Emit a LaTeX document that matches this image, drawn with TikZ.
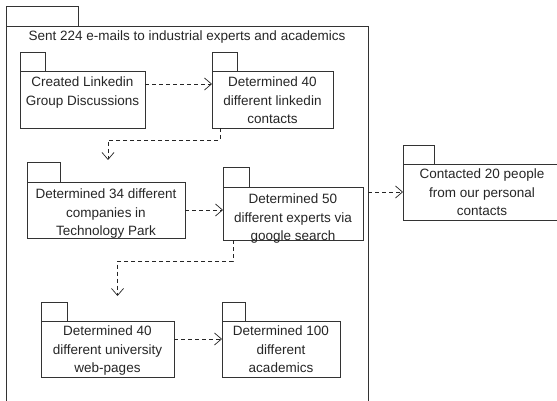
\documentclass[tikz,border=0pt]{standalone}
\usepackage{fontspec}
\setmainfont{Liberation Sans}
\usetikzlibrary{arrows.meta,positioning}
\begin{document}
\begin{tikzpicture}[x=1pt, y=-1pt,
    pkgline/.style={draw=black!80, line width=0.7pt},
    pkgbody/.style={pkgline, anchor=north west, outer sep=0pt, inner sep=0pt},
    pkgtext/.style={align=center, inner sep=0pt, text=black!85,
      font=\fontsize{13.5}{18.5}\selectfont},
    dep/.style={draw=black!85, line width=0.7pt, dash pattern=on 4pt off 3pt,
      -{Straight Barb[length=7pt,width=12pt]}}]
      \path [use as bounding box, clip] (0, 0) rectangle (557, 401);
      \fill [white] (0, 0) rectangle (557, 401);
      % outer package
      \node [pkgbody, minimum width=362pt, minimum height=400pt] (emails) at (6, 26) {};
      \draw [pkgline] (emails.north west) rectangle ++(72, -20);
      \node [pkgtext, below=5pt of emails.north] (emailstxt)
        {Sent 224 e-mails to industrial experts and academics};
      % inner packages
      \node [pkgbody, minimum width=125pt, minimum height=57pt] (lnkgrp) at (20, 71) {};
      \draw [pkgline] (lnkgrp.north west) rectangle ++(25, -19);
      \node [pkgtext, below=6pt of lnkgrp.north] (lnkgrptxt)
        {Created Linkedin\\Group Discussions};
      \node [pkgbody, minimum width=121pt, minimum height=57pt] (lnkcnt) at (212, 71) {};
      \draw [pkgline] (lnkcnt.north west) rectangle ++(25, -19);
      \node [pkgtext, below=6pt of lnkcnt.north] (lnkcnttxt)
        {Determined 40\\different linkedin\\contacts};
      \node [pkgbody, minimum width=158pt, minimum height=56pt] (techpark) at (27, 182) {};
      \draw [pkgline] (techpark.north west) rectangle ++(33, -20);
      \node [pkgtext, below=7pt of techpark.north] (techparktxt)
        {Determined 34 different\\companies in\\Technology Park};
      \node [pkgbody, minimum width=140pt, minimum height=53pt] (google) at (223, 187) {};
      \draw [pkgline] (google.north west) rectangle ++(26, -20);
      \node [pkgtext, below=7pt of google.north] (googletxt)
        {Determined 50\\different experts via\\google search};
      \node [pkgbody, minimum width=133pt, minimum height=56pt] (unipages) at (41, 321) {};
      \draw [pkgline] (unipages.north west) rectangle ++(26, -19);
      \node [pkgtext, below=5pt of unipages.north] (unipagestxt)
        {Determined 40\\different university\\web-pages};
      \node [pkgbody, minimum width=118pt, minimum height=56pt] (academics) at (222, 321) {};
      \draw [pkgline] (academics.north west) rectangle ++(23, -19);
      \node [pkgtext, below=5pt of academics.north] (academicstxt)
        {Determined 100\\different\\academics};
      % package outside
      \node [pkgbody, minimum width=158pt, minimum height=56pt] (contacts) at (403, 164) {};
      \draw [pkgline] (contacts.north west) rectangle ++(31, -19);
      \node [pkgtext, below=5pt of contacts.north] (contactstxt)
        {Contacted 20 people\\from our personal\\contacts};
      % dependencies
      \draw [dep] ([yshift=-13pt]lnkgrp.north east) -- ([yshift=-13pt]lnkgrp.north east -| lnkcnt.west);
      \draw [dep] ([xshift=8pt]lnkcnt.south west) -- ++(0, 12) -| ([xshift=2pt, yshift=22pt]techpark.north);
      \draw [dep] (techpark.east) -- (techpark.east -| google.west);
      \draw [dep] ([xshift=10pt]google.south west) -- ++(0, 21) -| ([xshift=10pt, yshift=25pt]unipages.north);
      \draw [dep] ([yshift=10pt]unipages.east) -- ([yshift=10pt]unipages.east -| academics.west);
      \draw [dep] (contacts.west -| emails.east) -- (contacts.west);
    \end{tikzpicture}
\end{document}
